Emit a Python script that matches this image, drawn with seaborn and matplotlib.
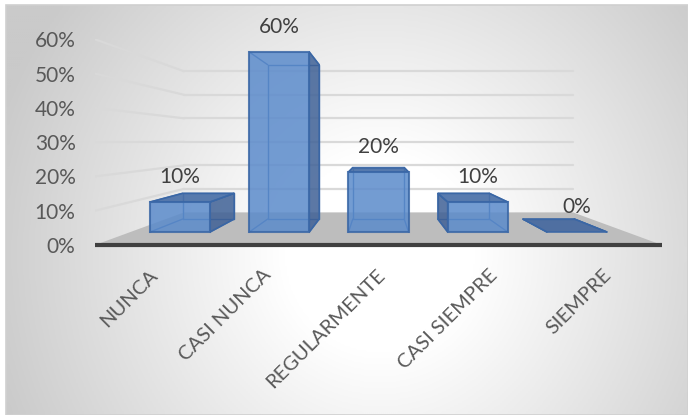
import numpy as np
import matplotlib
matplotlib.use("Agg")
import matplotlib.pyplot as plt
import matplotlib.transforms as mtransforms
from matplotlib.patches import Polygon, Rectangle
from matplotlib.ticker import PercentFormatter
import seaborn as sns

# ---- data ----
categories = ["NUNCA", "CASI NUNCA", "REGULARMENTE", "CASI SIEMPRE", "SIEMPRE"]
values = [0.10, 0.60, 0.20, 0.10, 0.00]
y_ticks = [0.0, 0.1, 0.2, 0.3, 0.4, 0.5, 0.6]

sns.set_theme(style="white")
plt.rcParams["font.family"] = ["Lato", "DejaVu Sans"]

W, H = 688, 415
fig = plt.figure(figsize=(W / 100, H / 100), dpi=100)
fig.patch.set_facecolor("white")

# ---- chart-area background with soft radial shading ----
bg = fig.add_axes([6 / W, 0, (W - 6) / W, (H - 5) / H])
ny, nx = 205, 341
yy, xx = np.mgrid[0:ny, 0:nx]
px = 6 + xx * (W - 6) / (nx - 1)
py = 5 + yy * (H - 5) / (ny - 1)
d = np.hypot((px - 380) / 330, (py - 255) / 340)
shade = 1 - 0.21 * np.clip((d - 0.28) / 0.95, 0, 1)
bg.imshow(shade, cmap="gray", vmin=0, vmax=1, aspect="auto",
          interpolation="bicubic", extent=(0, 1, 0, 1))
bg.set_axis_off()
bg.add_patch(Rectangle((0, 0), 1, 1, transform=bg.transAxes, fill=False,
                       edgecolor="#d0d0d0", lw=1.2, clip_on=False))

# ---- main axes: front plane of the floor ----
ax = fig.add_axes([95 / W, (H - 245) / H, (662 - 95) / W, (245 - 39.3) / H])
ax.patch.set_alpha(0)

# perspective helpers (vanishing point in data units, depth scale factors)
VPX, VPY = 2.0, 0.303
S_F, S_B, S_W = 0.875, 0.75, 0.686


def proj(x, y, s):
    return (VPX + (x - VPX) * s, VPY + (y - VPY) * s)


sns.barplot(x=categories, y=values, color="#5b8bcb", saturation=1,
            width=0.605, errorbar=None, ax=ax, zorder=4)

ax.set_xlim(-0.5, 4.5)
ax.set_ylim(0, 0.6)
for sp in ax.spines.values():
    sp.set_visible(False)

# floor
floor = Polygon([(-0.5, 0), (4.5, 0), proj(4.5, 0, S_W), proj(-0.5, 0, S_W)],
                closed=True, facecolor="#bdbdbd", edgecolor="none", zorder=1)
ax.add_patch(floor)

# back-wall and side-wall gridlines
for v in y_ticks[1:]:
    a = proj(-0.5, v, S_W)
    b = proj(4.5, v, S_W)
    ax.plot([a[0], b[0]], [a[1], b[1]], color="#d9d9d9", lw=1.6, zorder=1.2)
    ax.plot([-0.5, a[0]], [v, a[1]], color="#d9d9d9", lw=1.6, zorder=1.2)

# front axis line
ax.plot([-0.5, 4.5], [0, 0], color="#404040", lw=3, clip_on=False,
        solid_capstyle="butt", zorder=6)

edge_col = "#3a67a6"
for p, v in zip(ax.patches[:len(values)], values):
    x0 = p.get_x()
    x1 = x0 + p.get_width()
    y0 = p.get_y()
    y1 = y0 + p.get_height()
    cx = (x0 + x1) / 2

    keys = [(x0, y0), (x1, y0), (x1, y1), (x0, y1)]
    F = {k: proj(*k, S_F) for k in keys}
    B = {k: proj(*k, S_B) for k in keys}

    # hidden edges, seen through the translucent faces
    bx = [B[k][0] for k in keys] + [B[keys[0]][0]]
    by = [B[k][1] for k in keys] + [B[keys[0]][1]]
    ax.plot(bx, by, color=edge_col, lw=1, zorder=2)
    for k in keys:
        ax.plot([F[k][0], B[k][0]], [F[k][1], B[k][1]], color=edge_col,
                lw=1, zorder=2)

    # side face
    if cx < VPX - 0.3:
        xs = x1
    elif cx > VPX + 0.3:
        xs = x0
    else:
        xs = None
    if xs is not None and y1 > y0:
        side = Polygon([F[(xs, y0)], F[(xs, y1)], B[(xs, y1)], B[(xs, y0)]],
                       closed=True, facecolor="#3f6196", edgecolor=edge_col,
                       lw=1.2, alpha=0.85, zorder=3)
        ax.add_patch(side)

    # top face, visible when below eye level
    if y1 < VPY:
        top = Polygon([F[(x0, y1)], F[(x1, y1)], B[(x1, y1)], B[(x0, y1)]],
                      closed=True,
                      facecolor="#4a70a8" if y1 > y0 else "#46699f",
                      edgecolor=edge_col, lw=1.2, alpha=0.92, zorder=3)
        ax.add_patch(top)

    # front face: move the bar rectangle into its perspective plane
    fx0, fy0 = F[(x0, y0)]
    fx1, fy1 = F[(x1, y1)]
    p.set_x(fx0)
    p.set_y(fy0)
    p.set_width(fx1 - fx0)
    p.set_height(fy1 - fy0)
    p.set_alpha(0.85)
    p.set_edgecolor(edge_col)
    p.set_linewidth(1.5 if y1 > y0 else 0)

    # value label
    lx, ly = proj(cx, y1, S_F)
    ax.annotate(f"{v:.0%}", xy=(lx, ly), xytext=(0, 18),
                textcoords="offset points", ha="center", va="center",
                fontsize=15, color="#404040", zorder=7)

# y axis labels
ax.set_yticks(y_ticks)
ax.yaxis.set_major_formatter(PercentFormatter(1.0, decimals=0))
ax.tick_params(axis="y", length=0, pad=14, labelsize=15,
               labelcolor="#595959")

# category labels, rotated
ax.set_xticks(range(len(categories)))
ax.set_xticklabels([])
ax.tick_params(axis="x", length=0)
off = mtransforms.ScaledTranslation(7 / 100, -31 / 100, fig.dpi_scale_trans)
for i, c in enumerate(categories):
    ax.text(i, 0, c, transform=ax.transData + off, rotation=45,
            rotation_mode="anchor", ha="right", va="baseline",
            fontsize=14.5, color="#595959", clip_on=False)

ax.set_xlabel("")
ax.set_ylabel("")

fig.savefig("out.png", dpi=100)
